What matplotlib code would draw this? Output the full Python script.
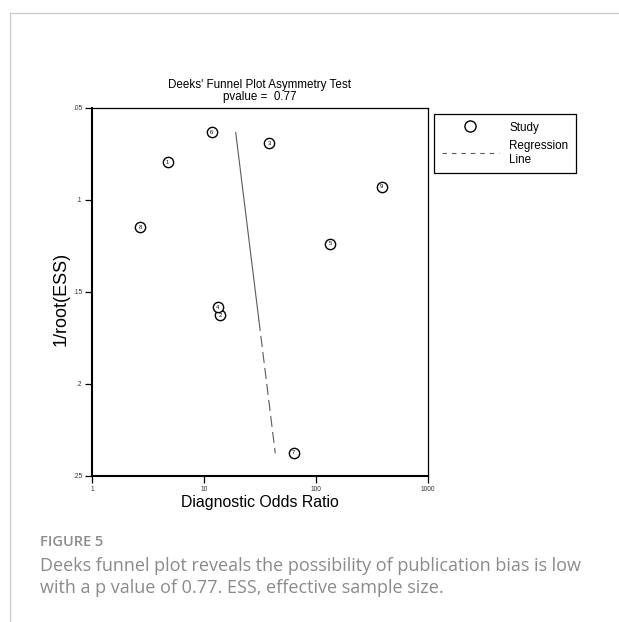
"""
Deeks' funnel plot asymmetry test: 1/root(ESS) against diagnostic odds ratio
with the regression line, plus the figure caption underneath.
"""

import matplotlib
matplotlib.use("Agg")
import matplotlib.pyplot as plt
from matplotlib.lines import Line2D
from matplotlib.ticker import NullLocator

######################### data ###############################################

study_ids = ["1", "2", "3", "4", "5", "6", "7", "8", "9"]
dor = [4.74, 14.0, 38.0, 13.3, 134, 11.7, 63.2, 2.70, 386]
inv_root_ess = [0.0795, 0.1627, 0.0692, 0.1583, 0.1239, 0.0632, 0.2375, 0.1149, 0.0928]

# regression line: solid up top, dashed lower part
reg_dor = [19.2, 30.9, 43.3]
reg_inv_root_ess = [0.0634, 0.1652, 0.2377]

x_ticks = [1, 10, 100, 1000]
x_tick_labels = ["1", "10", "100", "1000"]
y_ticks = [0.05, 0.1, 0.15, 0.2, 0.25]
y_tick_labels = [".05", ".1", ".15", ".2", ".25"]

title = "Deeks' Funnel Plot Asymmetry Test"
subtitle = "pvalue =  0.77"
caption_head = "FIGURE 5"
caption_lines = ["Deeks funnel plot reveals the possibility of publication bias is low",
                 "with a p value of 0.77. ESS, effective sample size."]

##############################################################################

W, H = 619, 622
plt.rcParams["font.family"] = ["Liberation Sans", "DejaVu Sans"]

fig = plt.figure(figsize=(W / 100, H / 100), dpi=100)
ax = fig.add_axes([92 / W, 1 - 476 / H, 336 / W, 368 / H])

line_col = "#5a5a5a"
ax.plot(reg_dor[:2], reg_inv_root_ess[:2], color=line_col, lw=0.8, zorder=2)
ax.plot(reg_dor[1:], reg_inv_root_ess[1:], color=line_col, lw=0.8,
        ls=(0, (10, 4.5)), zorder=2)

ax.scatter(dor, inv_root_ess, s=55, facecolor="white", edgecolor="black",
           linewidths=1.0, zorder=3)
for sid, x, y in zip(study_ids, dor, inv_root_ess):
    ax.text(x, y, sid, fontsize=4.2, ha="center", va="center", zorder=4)

ax.set_xscale("log")
ax.set_xlim(1, 1000)
ax.set_ylim(0.25, 0.05)
ax.set_xticks(x_ticks)
ax.set_xticklabels(x_tick_labels)
ax.set_yticks(y_ticks)
ax.set_yticklabels(y_tick_labels)
ax.xaxis.set_minor_locator(NullLocator())

for side in ["left", "bottom"]:
    ax.spines[side].set_linewidth(1.5)
for side in ["top", "right"]:
    ax.spines[side].set_linewidth(0.9)
ax.tick_params(direction="out", length=5, width=0.9, labelsize=4.8, pad=2,
               labelcolor="#333333")

# axis labels and title
fig.text(61 / W, 1 - 299 / H, "1/root(ESS)", rotation=90, fontsize=13,
         ha="center", va="center")
fig.text(260 / W, 1 - 503 / H, "Diagnostic Odds Ratio", fontsize=11.4,
         ha="center", va="center")
fig.text(260 / W, 1 - 85 / H, title, fontsize=8.4, ha="center", va="center")
fig.text(260 / W, 1 - 97 / H, subtitle, fontsize=8.4, ha="center", va="center")

# legend
handles = [Line2D([], [], ls="none", marker="o", markersize=8,
                  markerfacecolor="white", markeredgecolor="black", markeredgewidth=1.0),
           Line2D([], [], color=line_col, lw=0.8, ls=(0, (4, 4.5)))]
leg = fig.legend(handles, ["Study", "Regression\nLine"], loc="upper left",
                 bbox_to_anchor=(434 / W, 1 - 114 / H), borderaxespad=0,
                 fontsize=8.4, fancybox=False, framealpha=1, borderpad=0.65,
                 labelspacing=0.55, handlelength=4.9, handletextpad=0.9)
leg.get_frame().set_edgecolor("black")
leg.get_frame().set_linewidth(0.9)

# page furniture: grey rule on top and left
fig.add_artist(Line2D([9.5 / W, 9.5 / W], [0, 1 - 12.5 / H], transform=fig.transFigure,
                      color="#c8c8c8", lw=0.9))
fig.add_artist(Line2D([9.5 / W, 1], [1 - 12.5 / H, 1 - 12.5 / H], transform=fig.transFigure,
                      color="#c8c8c8", lw=0.9))

# caption
fig.text(40 / W, 1 - 541.7 / H, caption_head, family="Open Sans", weight="semibold",
         fontsize=10.5, color="#8c8c8c", va="center")
for i, txt in enumerate(caption_lines):
    fig.text(40 / W, 1 - (565.7 + 22.3 * i) / H, txt, family="Open Sans",
             fontsize=13, color="#8a8a8a", va="center")

fig.savefig("out.png", dpi=100)
